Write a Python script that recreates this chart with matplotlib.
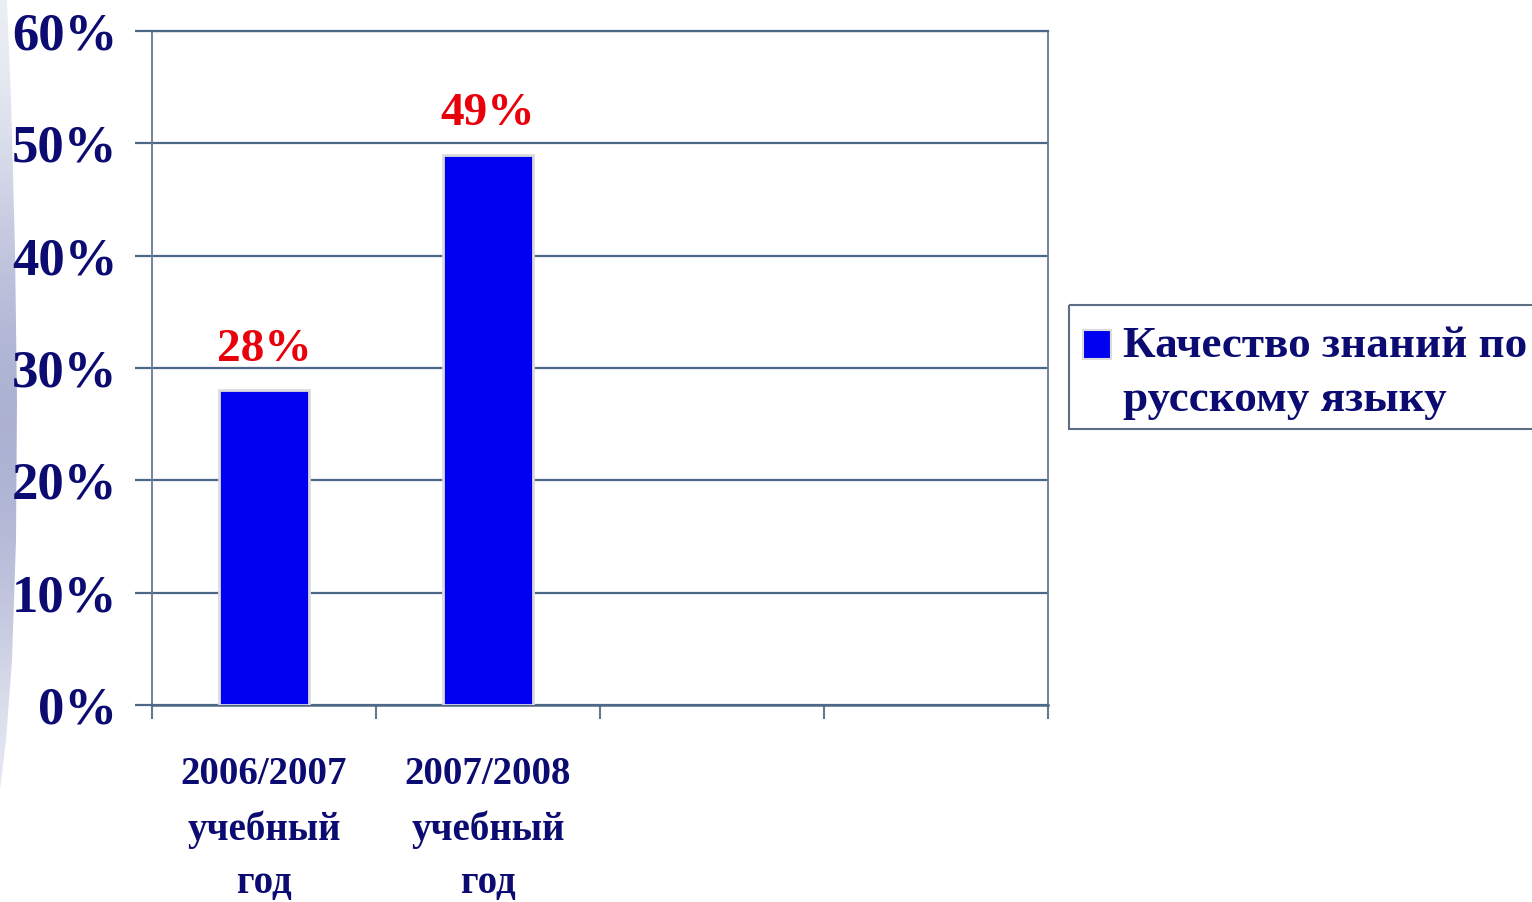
import matplotlib
matplotlib.use('Agg')
import matplotlib.pyplot as plt
import matplotlib.ticker as mticker
from matplotlib.patches import Patch, Rectangle, Polygon
from matplotlib.legend_handler import HandlerPatch
import numpy as np

#chart data
years = ['2006/2007\nучебный\nгод', '2007/2008\nучебный\nгод']
quality = [28, 49]
n_slots = 4
yticks = [0, 10, 20, 30, 40, 50, 60]
series_name = 'Качество знаний по\nрусскому языку'

#colours
navy = '#0b0b72'
grid_col = '#4d6886'
bar_col = '#0000f0'

plt.rcParams['font.family'] = ['Liberation Serif', 'DejaVu Serif']
plt.rcParams['font.weight'] = 'bold'

fig = plt.figure(figsize=(15.32, 9.02), dpi=100)

#decorative stripe on the left edge (slide background)
bg = fig.add_axes([0, 0, 1, 1], zorder=-5)
bg.set_xlim(0, 1532)
bg.set_ylim(902, 0)
bg.axis('off')
grad = np.array([[0.0], [0.35], [0.75], [1.0], [0.9], [0.55], [0.1]])
stripe_cmap = matplotlib.colors.LinearSegmentedColormap.from_list('stripe', ['#eceef5', '#a9afd1'])
im = bg.imshow(grad, cmap=stripe_cmap, extent=[0, 30, 800, 0], aspect='auto', interpolation='bicubic')
edge = Polygon([(0, 0), (7, 0), (11, 100), (15, 250), (17, 400), (16, 540), (12, 660), (6, 740), (0, 790)],
               closed=True, facecolor='none', edgecolor='none')
bg.add_patch(edge)
im.set_clip_path(edge)

#legend box outline (runs off the right edge of the slide)
bg.add_patch(Rectangle((1069, 305), 480, 124, facecolor='none', edgecolor='#5d6f86', linewidth=1.5))

#main axes
ax = fig.add_axes([152/1532, 1-705/902, 896/1532, 674/902])
x = np.arange(len(quality)) + 0.5
bars = ax.bar(x, quality, width=0.40, color=bar_col, edgecolor='#dcdcdc', linewidth=2, zorder=3)

for xi, v in zip(x, quality):
    ax.annotate(f'{v}%', (xi, v), xytext=(0, 14), textcoords='offset points',
                ha='center', va='bottom', color='#e8000b', fontsize=34, fontweight='bold')

ax.set_xlim(0, n_slots)
ax.set_ylim(0, 60)

#y axis
ax.set_yticks(yticks)
ax.yaxis.set_major_formatter(mticker.FuncFormatter(lambda v, p: f'{v:.0f}%'))
ax.yaxis.grid(True, color=grid_col, linewidth=1.6, zorder=0)
ax.set_axisbelow(True)
ax.tick_params(axis='y', length=12, width=1.6, color=grid_col, pad=13, labelsize=38, labelcolor=navy)

#x axis: ticks on slot boundaries, labels at slot centres
ax.set_xticks(np.arange(n_slots + 1))
ax.set_xticklabels([])
ax.set_xticks(x, minor=True)
ax.set_xticklabels(years, minor=True, fontsize=28, color=navy, linespacing=1.57)
ax.tick_params(axis='x', which='major', length=10, width=1.5, color='#66778a', direction='out')
ax.tick_params(axis='x', which='minor', length=0, pad=37)

for s in ['left', 'right']:
    ax.spines[s].set_color('#6a7a8c')
    ax.spines[s].set_linewidth(1.3)
ax.spines['bottom'].set_color(grid_col)
ax.spines['bottom'].set_linewidth(1.8)
ax.spines['top'].set_color(grid_col)
ax.spines['top'].set_linewidth(1.6)

#legend, square aligned with the first line
def top_square(legend, orig_handle, xdescent, ydescent, width, height, fontsize):
    return Rectangle((-xdescent, -ydescent + 20), height, height)

handle = Patch(facecolor=bar_col, edgecolor='#dcdcdc', linewidth=1.5)
leg = fig.legend([handle], [series_name], loc='upper left', bbox_to_anchor=(1069/1532, 1-312/902),
                 fontsize=32.5, labelcolor=navy, frameon=False, borderpad=0.3,
                 handlelength=0.6, handleheight=0.6, handletextpad=0.3, borderaxespad=0,
                 handler_map={Patch: HandlerPatch(patch_func=top_square)})
for t in leg.get_texts():
    t.set_linespacing(1.46)

plt.savefig('out.png', dpi=100)
